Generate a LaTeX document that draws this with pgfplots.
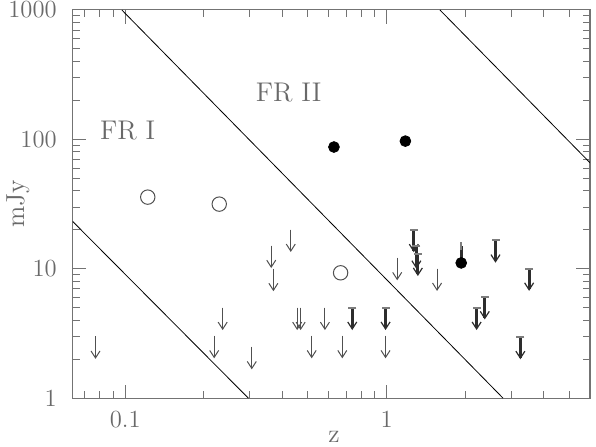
\documentclass[border=0pt]{standalone}
\usepackage{pgfplots}
\pgfplotsset{compat=1.18}
\usepackage{pgfplotstable}
\usetikzlibrary{arrows.meta,calc}
\definecolor{axgray}{RGB}{115,115,115}
\definecolor{txtgray}{RGB}{105,105,105}
\definecolor{arrgray}{RGB}{80,80,80}
\definecolor{thickgray}{RGB}{45,45,45}
\definecolor{capgray}{RGB}{125,125,125}

% upper limits, value at the top of the arrow
\pgfplotstableread{
x      y
0.0770 3.00
0.430  20.1
0.362  15.1
0.369  10.0
0.236  5.01
0.455  5.01
0.469  5.01
0.581  5.01
0.219  3.03
0.305  2.49
0.517  3.03
1.098  12.15
1.56   10.05
0.677  3.03
0.991  3.03
}\thinlim

\pgfplotstableread{
x      y
0.739  5.01
0.991  5.01
1.271  20.0
1.30   14.9
1.317  13.1
2.61   16.6
3.51   10.05
2.375  6.05
2.21   5.01
3.25   2.98
}\thicklim

\begin{document}
\begin{tikzpicture}
\begin{axis}[
  name=ax, scale only axis,
  width=258.5pt, height=194pt,
  xmode=log, ymode=log,
  xmin=0.063, xmax=6, ymin=1, ymax=1000,
  axis line style={axgray, line width=0.5pt},
  every tick/.style={axgray, line width=0.5pt},
  tick align=inside,
  xtick={0.1,1}, xticklabels={0.1,1},
  minor xtick={0.07,0.08,0.09,0.2,0.3,0.4,0.5,0.6,0.7,0.8,0.9,2,3,4,5},
  ytick={1,10,100,1000}, yticklabels={1,10,100,1000},
  minor ytick={2,3,4,5,6,7,8,9,20,30,40,50,60,70,80,90,200,300,400,500,600,700,800,900},
  major tick length=6.8pt, minor tick length=3.5pt,
  tick label style={txtgray, font=\fontsize{12.3}{14}\selectfont},
  yticklabel style={xshift=-4.5pt},
  xticklabel style={yshift=-3pt},
  xlabel={z}, ylabel={mJy},
  label style={txtgray, font=\fontsize{13}{15}\selectfont},
  xlabel style={at={(axis description cs:0.505,-0.101)}, anchor=center},
  ylabel style={at={(axis description cs:-0.106,0.5)}, anchor=center},
]
\addplot[black, line width=0.4pt] coordinates {(0.063,23.2) (0.296,1)};
\addplot[black, line width=0.4pt] coordinates {(0.0971,1000) (2.79,1)};
\addplot[black, line width=0.4pt] coordinates {(1.6,1000) (6,66)};

\addplot[only marks, mark=*, mark size=0pt, mark options={draw=none, fill=none},
  error bars/.cd, y dir=minus, y fixed relative=0.329, error mark=none,
  error bar style={draw=arrgray, line width=0.5pt,
    -{Straight Barb[length=3.5pt,width=4.5pt]}}]
  table {\thinlim};

\addplot[only marks, mark=-, mark size=2pt,
  mark options={draw=capgray, line width=1pt},
  error bars/.cd, y dir=minus, y fixed relative=0.329, error mark=none,
  error bar style={draw=thickgray, line width=1.4pt,
    -{Straight Barb[length=3.5pt,width=4.5pt,line width=0.6pt]}}]
  table {\thicklim};

\addplot[only marks, mark=*, mark size=2.7pt, black,
  error bars/.cd, y dir=plus, y explicit, error mark=-,
  error mark options={draw=capgray, line width=1pt, mark size=2pt},
  error bar style={draw=thickgray, line width=1.4pt}]
  coordinates {(1.93,11.1) +- (0,3.8)};

\addplot[only marks, mark=*, mark size=2.7pt, black]
  coordinates {(0.629,87.3) (1.18,97)};

\addplot[only marks, mark=o, mark size=3.6pt, draw=arrgray, line width=0.5pt]
  coordinates {(0.122,35.8) (0.229,31.6) (0.667,9.31)};

\node[txtgray, font=\fontsize{13.5}{15}\selectfont] at (axis cs:0.1022,117.9) {FR I};
\node[txtgray, font=\fontsize{13.5}{15}\selectfont] at (axis cs:0.422,232) {FR II};
\end{axis}
\pgfresetboundingbox
\path[use as bounding box] ($(ax.south west)+(-36.35pt,-24.35pt)$) rectangle ($(ax.north east)+(3pt,5pt)$);
\end{tikzpicture}
\end{document}
